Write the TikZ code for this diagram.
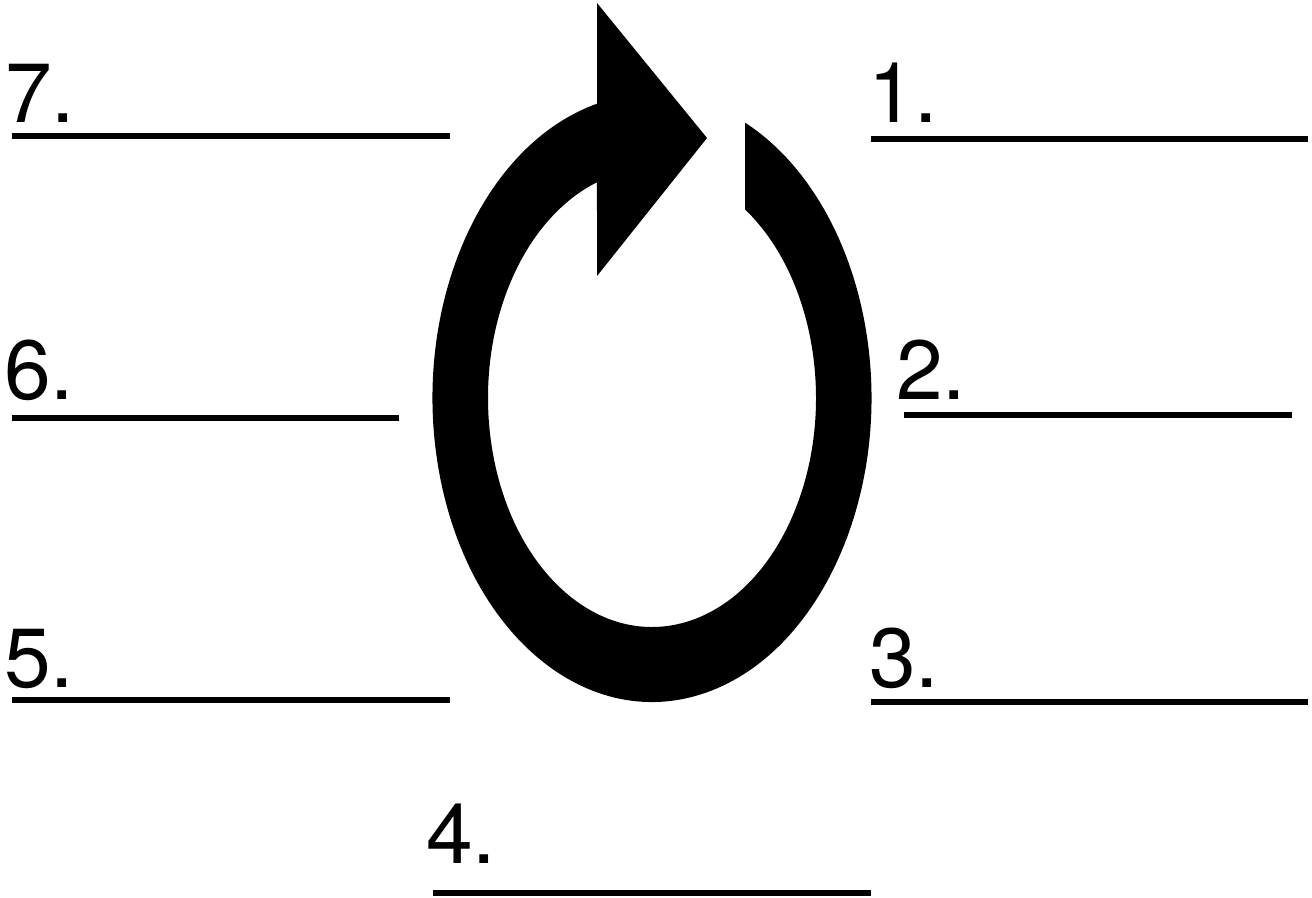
\documentclass[tikz,border=0pt]{standalone}
\usepackage{fontspec}
\setmainfont{TeX Gyre Heros}
\begin{document}
\begin{tikzpicture}[x=0.75pt,y=0.75pt,yscale=-1,xscale=1,
        num/.style={anchor=base west,inner sep=0pt,font=\fontsize{63}{70}\selectfont},
        blank/.style={line width=4.5pt}]
        \useasboundingbox (0,0) rectangle (1312,898);
        \fill [black] (597,103.7) arc [start angle=255.49, end angle=-64.93, x radius=219.5, y radius=304] -- (745,209.4) arc [start angle=-55.45, end angle=250.40, x radius=164, y radius=229] -- (597,276) -- (707,138) -- (597,3) -- cycle;
        \node (n1) at (868,123) [num] {1.};
        \node (n2) at (896,399) [num] {2.};
        \node (n3) at (869,687) [num] {3.};
        \node (n4) at (426,863) [num] {4.};
        \node (n5) at (4,687) [num] {5.};
        \node (n6) at (4,399) [num] {6.};
        \node (n7) at (5,123) [num] {7.};
        \coordinate (b1a) at (871,139);
        \coordinate (b1b) at (1308,139);
        \coordinate (b2a) at (904,415);
        \coordinate (b2b) at (1292,415);
        \coordinate (b3a) at (871,702);
        \coordinate (b3b) at (1308,702);
        \coordinate (b4a) at (433,893);
        \coordinate (b4b) at (871,893);
        \coordinate (b5a) at (12,700);
        \coordinate (b5b) at (450,700);
        \coordinate (b6a) at (12,418);
        \coordinate (b6b) at (399,418);
        \coordinate (b7a) at (12,136);
        \coordinate (b7b) at (450,136);
        \draw [blank] (b1a) -- (b1b);
        \draw [blank] (b2a) -- (b2b);
        \draw [blank] (b3a) -- (b3b);
        \draw [blank] (b4a) -- (b4b);
        \draw [blank] (b5a) -- (b5b);
        \draw [blank] (b6a) -- (b6b);
        \draw [blank] (b7a) -- (b7b);
    \end{tikzpicture}
\end{document}
